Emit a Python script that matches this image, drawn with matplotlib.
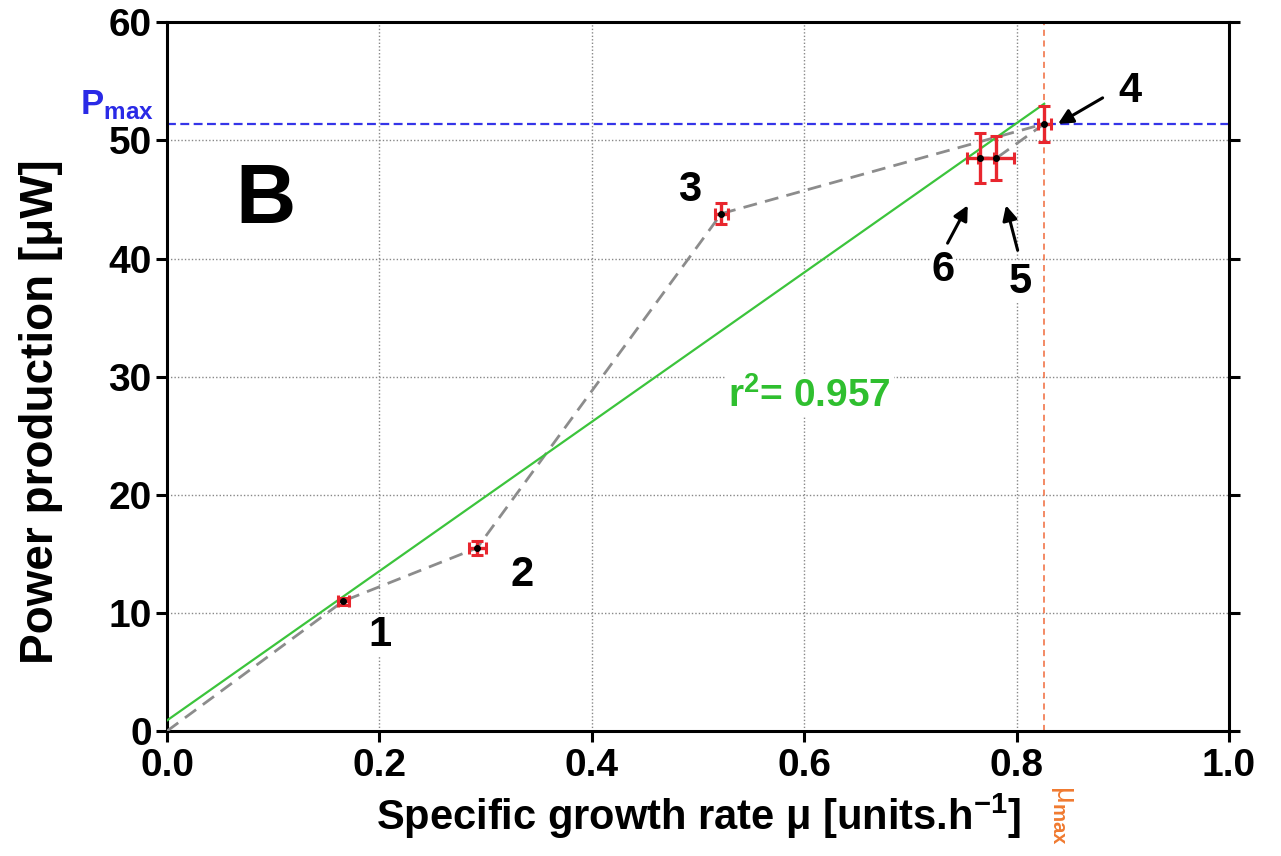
import matplotlib.pyplot as plt

plt.rcParams['font.family'] = ['Liberation Sans', 'DejaVu Sans']
plt.rcParams['font.weight'] = 'bold'
plt.rcParams['axes.labelweight'] = 'bold'
plt.rcParams['mathtext.fontset'] = 'custom'
plt.rcParams['mathtext.rm'] = 'Liberation Sans:bold'
plt.rcParams['mathtext.bf'] = 'Liberation Sans:bold'
plt.rcParams['mathtext.default'] = 'bf'

# measured points, in run order
mu = [0.0, 0.166, 0.292, 0.522, 0.826, 0.781, 0.766]
power = [0.0, 11.0, 15.5, 43.8, 51.4, 48.5, 48.5]
mu_err = [0.0, 0.005, 0.008, 0.006, 0.006, 0.017, 0.013]
power_err = [0.0, 0.3, 0.6, 0.9, 1.5, 1.85, 2.1]

# linear fit as drawn
fit_x = [0.0, 0.826]
fit_y = [0.9, 53.1]

p_max = 51.4
mu_max = 0.826

fig = plt.figure(figsize=(12.81, 8.56), dpi=100)
ax = fig.add_axes([0.1304, 0.146, 0.829, 0.828])

ax.grid(True, color='#888888', linestyle=(0, (1, 1.5)), linewidth=1)
ax.set_axisbelow(True)

ax.plot(mu, power, linestyle='--', dashes=(5, 3), color='#8c8c8c', linewidth=2, zorder=3)
ax.plot(fit_x, fit_y, color='#3cc43c', linewidth=1.6, zorder=4)
ax.axhline(p_max, color='#3535e8', linestyle='--', dashes=(4, 2), linewidth=1.6, zorder=2)
ax.axvline(mu_max, color='#f06a3a', linestyle='--', dashes=(4, 3), linewidth=1.1, zorder=2)

ax.errorbar(mu[1:], power[1:], xerr=mu_err[1:], yerr=power_err[1:], fmt='o',
            color='black', markersize=4, ecolor='#e8262e', elinewidth=2.4,
            capsize=4.5, capthick=2.2, zorder=5)

# point numbers
num_pos = {'1': (0.2006, 8.1), '2': (0.334, 13.2), '3': (0.492, 45.8),
           '4': (0.907, 54.2), '5': (0.803, 38.0), '6': (0.731, 39.0)}
for lab, (x, y) in num_pos.items():
    ax.text(x, y, lab, fontsize=30, ha='center', va='center', zorder=6,
            bbox=dict(facecolor='white', edgecolor='none', pad=1))

# arrows: tail -> head
arrows = [((0.881, 53.6), (0.839, 51.4)),
          ((0.735, 41.3), (0.754, 44.5)),
          ((0.801, 40.7), (0.790, 44.5))]
for tail, head in arrows:
    ax.annotate('', xy=head, xytext=tail, zorder=7,
                arrowprops=dict(arrowstyle='-|>', color='black', lw=2.2, shrinkA=0, shrinkB=0,
                                mutation_scale=22))

ax.text(0.093, 44.9, 'B', fontsize=60, ha='center', va='center')
ax.text(0.605, 28.4, r'r$^{2}$= 0.957', fontsize=28, color='#2fbf2f', ha='center',
        va='center', zorder=6, bbox=dict(facecolor='white', edgecolor='none', pad=2))

ax.text(-0.047, 53.0, r'P$_{max}$', fontsize=25, color='#2a2ae6', ha='center',
        va='center', clip_on=False)
ax.text(mu_max + 0.018, -7.1, 'μ$_{max}$', fontsize=21, color='#f07a30',
        rotation=-90, ha='center', va='center', clip_on=False, fontweight='normal')

ax.set_xlim(0, 1.0)
ax.set_ylim(0, 60)
ax.set_xticks([0.0, 0.2, 0.4, 0.6, 0.8, 1.0])
ax.set_xticklabels(['0.0', '0.2', '0.4', '0.6', '0.8', '1.0'])
ax.set_yticks([0, 10, 20, 30, 40, 50, 60])

for side in ['left', 'bottom', 'top', 'right']:
    ax.spines[side].set_linewidth(2.2)
ax.tick_params(axis='both', labelsize=28, width=2.2, length=8, direction='out')
ax.tick_params(axis='x', pad=4)
ax.tick_params(axis='y', pad=3)
ax.tick_params(right=True, top=False)

ax.set_xlabel('Specific growth rate μ [units.h$^{-1}$]', fontsize=30, labelpad=6)
ax.set_ylabel('Power production [μW]', fontsize=33)
ax.yaxis.set_label_coords(-0.098, 0.45)

fig.savefig('out.png', dpi=100)
